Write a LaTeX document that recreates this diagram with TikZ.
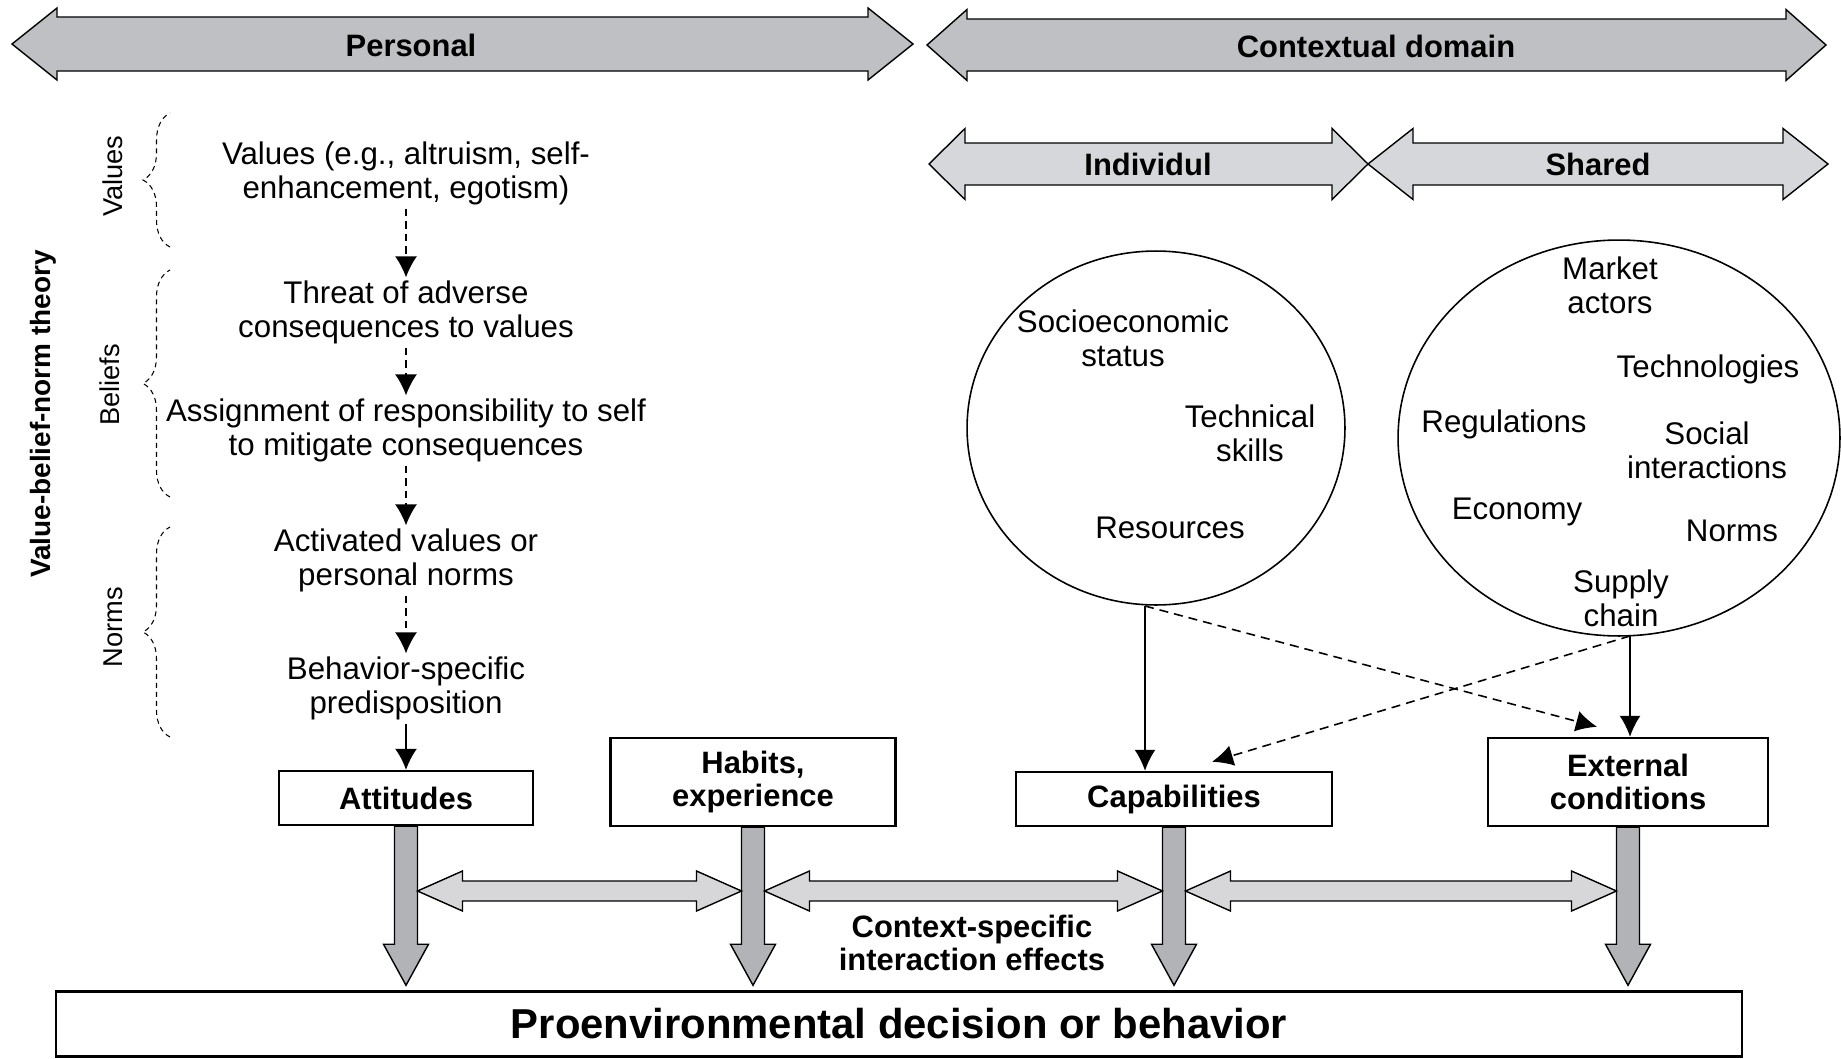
\documentclass[tikz,border=0pt]{standalone}
\usepackage{fontspec}
\setmainfont{Liberation Sans}
\usepackage{tikz}
\usetikzlibrary{positioning,calc,shapes.geometric,decorations.pathreplacing,arrows.meta}
\definecolor{bandgray}{RGB}{191,192,195}
\definecolor{subgray}{RGB}{214,215,218}
\definecolor{flowgray}{RGB}{178,179,183}
\definecolor{linkgray}{RGB}{215,215,217}
% double headed fat arrow: style, left tip, right tip, shaft half, head half, head length
\newcommand{\fatboth}[6]{%
	\draw[#1] (#2) -- ($(#2)+(#6,-#5)$) -- ($(#2)+(#6,-#4)$) -- ($(#3)+(-#6,-#4)$) -- ($(#3)+(-#6,-#5)$) -- (#3)
		-- ($(#3)+(-#6,#5)$) -- ($(#3)+(-#6,#4)$) -- ($(#2)+(#6,#4)$) -- ($(#2)+(#6,#5)$) -- cycle;}
% fat arrow pointing down: style, top, tip
\newcommand{\fatdown}[3]{%
	\draw[#1] ($(#2)+(-11.5,0)$) -- ($(#3)+(-11.5,-41)$) -- ($(#3)+(-22.5,-41)$) -- (#3)
		-- ($(#3)+(22.5,-41)$) -- ($(#3)+(11.5,-41)$) -- ($(#2)+(11.5,0)$) -- cycle;}

\begin{document}
\begin{tikzpicture}[x=0.02cm,y=-0.02cm]
\tikzstyle{txt}=[align=center, inner sep=2pt, yshift=-0.07cm, font=\fontsize{17.8}{19}\selectfont]
\tikzstyle{head}=[align=center, inner sep=2pt, font=\fontsize{17.6}{19}\selectfont\bfseries]
\tikzstyle{side}=[rotate=90, inner sep=0pt, font=\fontsize{15.5}{17}\selectfont]
\tikzstyle{box}=[rectangle, draw=black, line width=1.4pt, fill=white, align=center, font=\fontsize{17.6}{19}\selectfont\bfseries]
\tikzstyle{blob}=[ellipse, draw=black, line width=0.9pt, inner sep=0pt]
\tikzstyle{band}=[draw=black, line width=0.8pt, fill=bandgray]
\tikzstyle{subband}=[draw=black, line width=0.8pt, fill=subgray]
\tikzstyle{fatflow}=[draw=black, line width=0.8pt, fill=flowgray]
\tikzstyle{fatlink}=[draw=black, line width=0.8pt, fill=linkgray]
\tikzstyle{flow}=[-{Latex[length=0.42cm,width=0.44cm]}, line width=0.9pt]
\tikzstyle{flowdash}=[flow, dash pattern=on 0.15cm off 0.1cm]
\tikzstyle{link}=[-{Latex[length=0.42cm,width=0.42cm]}, line width=0.9pt]
\tikzstyle{dlink}=[link, dash pattern=on 0.18cm off 0.12cm]
\tikzstyle{brc}=[decorate, decoration={brace, amplitude=0.54cm}, line width=0.6pt, dash pattern=on 0.1cm off 0.08cm]
\useasboundingbox (0,0) rectangle (1841,1058);

	% domain bands
	\coordinate (pers_l) at (12,44);
	\coordinate (pers_r) at (913,44);
	\coordinate (ctx_l) at (927,45);
	\coordinate (ctx_r) at (1826,45);
	\coordinate (ind_l) at (929,164);
	\coordinate (ind_r) at (1368,164);
	\coordinate (shr_l) at (1368,164);
	\coordinate (shr_r) at (1828,164);
	\fatboth{band}{pers_l}{pers_r}{27}{36}{45}
	\fatboth{band}{ctx_l}{ctx_r}{26}{35.5}{40}
	\fatboth{subband}{ind_l}{ind_r}{21}{35.5}{36}
	\fatboth{subband}{shr_l}{shr_r}{21}{35.5}{45}
	\node[head] (pers) at (411,45) {Personal};
	\node[head] (ctx) at (1376,46) {Contextual domain};
	\node[head] (indiv) at (1148,164) {Individul};
	\node[head] (shared) at (1598,164) {Shared};

	% value-belief-norm chain
	\node[side, font=\fontsize{15.9}{17}\selectfont\bfseries] (vbn) at (43,414) {Value-belief-norm theory};
	\node[side] (l_val) at (113,176) {Values};
	\node[side] (l_bel) at (110,385) {Beliefs};
	\node[side] (l_nrm) at (113,627) {Norms};
	\draw[brc] (170,247) -- (170,113);
	\draw[brc] (170,497) -- (170,270);
	\draw[brc] (170,737) -- (170,527);

	\node[txt] (val) at (406,170) {Values (e.g., altruism, self-\\enhancement, egotism)};
	\node[txt] (thr) at (406,309) {Threat of adverse\\consequences to values};
	\node[txt] (asg) at (406,427) {Assignment of responsibility to self\\to mitigate consequences};
	\node[txt] (act) at (406,557) {Activated values or\\personal norms};
	\node[txt] (pre) at (406,685) {Behavior-specific\\predisposition};

	% context circles
	\node[blob, minimum width=7.56cm, minimum height=7.08cm] (indc) at (1156,428) {};
	\node[blob, minimum width=8.84cm, minimum height=7.92cm] (shrc) at (1619,438) {};
	\node[txt] (socio) at (1123,335) {Socioeconomic\\status};
	\node[txt] (tech) at (1250,430) {Technical\\skills};
	\node[txt] (res) at (1170,524) {Resources};
	\node[txt] (mkt) at (1610,282) {Market\\actors};
	\node[txt] (techn) at (1708,366) {Technologies};
	\node[txt] (reg) at (1504,421) {Regulations};
	\node[txt] (soc) at (1707,447) {Social\\interactions};
	\node[txt] (eco) at (1517,508) {Economy};
	\node[txt] (nrm) at (1732,527) {Norms};
	\node[txt] (sup) at (1621,595) {Supply\\chain};

	% determinants
	\node[box, minimum width=5.08cm, minimum height=1.08cm] (att) at (406,798) {Attitudes};
	\node[box, minimum width=5.7cm, minimum height=1.76cm] (hab) at (753,782) {Habits,\\experience};
	\node[box, minimum width=6.32cm, minimum height=1.08cm] (cap) at (1174,799) {Capabilities};
	\node[box, minimum width=5.6cm, minimum height=1.76cm] (ext) at (1628,782) {External\\conditions};
	\node[box, minimum width=33.72cm, minimum height=1.3cm, font=\fontsize{23.8}{26}\selectfont\bfseries] (main) at (899,1024) {Proenvironmental decision or behavior};

	\path
		(val) edge[flowdash] (thr)
		(thr) edge[flowdash] (asg)
		(asg) edge[flowdash] (act)
		(act) edge[flowdash] (pre)
		(pre) edge[flow] (att);

	\coordinate (indfoot) at (1145,606);
	\coordinate (shrfoot) at (1630,636);
	\draw[link] (indfoot) -- (indfoot |- cap.north);
	\draw[link] (shrfoot) -- (shrfoot |- ext.north);
	\draw[dlink] (indfoot) -- ($(ext.north)+(-31,-10)$);
	\draw[dlink] (shrfoot) -- ($(cap.north)+(38,-9)$);

	% fat arrows to behavior
	\coordinate (attend) at ($(att.south |- main.north)+(0,-5)$);
	\coordinate (habend) at ($(hab.south |- main.north)+(0,-5)$);
	\coordinate (capend) at ($(cap.south |- main.north)+(0,-5)$);
	\coordinate (extend) at ($(ext.south |- main.north)+(0,-5)$);
	\fatdown{fatflow}{att.south}{attend}
	\fatdown{fatflow}{hab.south}{habend}
	\fatdown{fatflow}{cap.south}{capend}
	\fatdown{fatflow}{ext.south}{extend}

	% interaction effects
	\coordinate (midrow) at (0,891);
	\coordinate (lk1a) at ($(att.south |- midrow)+(11.5,0)$);
	\coordinate (lk1b) at ($(hab.south |- midrow)+(-11.5,0)$);
	\coordinate (lk2a) at ($(hab.south |- midrow)+(11.5,0)$);
	\coordinate (lk2b) at ($(cap.south |- midrow)+(-11.5,0)$);
	\coordinate (lk3a) at ($(cap.south |- midrow)+(11.5,0)$);
	\coordinate (lk3b) at ($(ext.south |- midrow)+(-11.5,0)$);
	\fatboth{fatlink}{lk1a}{lk1b}{10}{20}{45}
	\fatboth{fatlink}{lk2a}{lk2b}{10}{20}{45}
	\fatboth{fatlink}{lk3a}{lk3b}{10}{20}{45}
	\node[head] (ctxfx) at (972,943) {Context-specific\\interaction effects};
\end{tikzpicture}
\end{document}
